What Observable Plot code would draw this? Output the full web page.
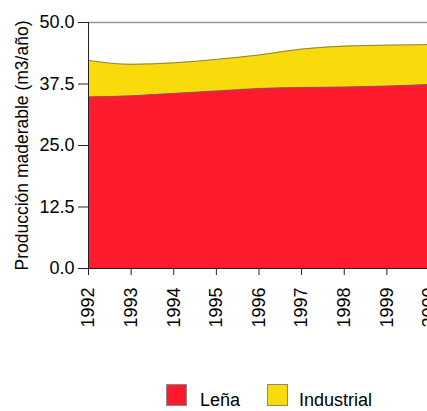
<!DOCTYPE html>
<html>
<head>
<meta charset="utf-8">
<script src="https://cdn.jsdelivr.net/npm/d3@7"></script>
<script src="https://cdn.jsdelivr.net/npm/@observablehq/plot@0.6"></script>
<style>
  html, body { margin: 0; padding: 0; background: #fff; }
  #wrap { position: relative; width: 427px; height: 411px; overflow: hidden; font-family: "Liberation Sans", Arial, sans-serif; }
  #chart { position: absolute; left: 0; top: 0; }
  .leg { position: absolute; top: 384px; display: flex; align-items: flex-start; font-size: 18px; color: #000; }
  .sw { width: 21px; height: 22px; border: 1px solid #888; box-sizing: border-box; }
  .lab { position: absolute; top: 6px; white-space: nowrap; }
</style>
</head>
<body>
<div id="wrap">
  <div id="chart"></div>
</div>
<script>
const years = [1992, 1993, 1994, 1995, 1996, 1997, 1998, 1999, 2000];
const lena = [34.9, 35.1, 35.6, 36.1, 36.6, 36.8, 36.9, 37.1, 37.4];
const industrial = [7.4, 6.4, 6.2, 6.4, 6.8, 7.8, 8.3, 8.3, 8.1];
const series = ["Leña", "Industrial"];
const colors = ["#fe1b2d", "#f9db0b"];
const yTicks = [0, 12.5, 25, 37.5, 50];
const yLabel = "Producción maderable (m3/año)";

const data = [];
years.forEach((yr, i) => data.push({year: yr, serie: "Leña", value: lena[i]}));
years.forEach((yr, i) => data.push({year: yr, serie: "Industrial", value: industrial[i]}));

const curve = "monotone-x";

const plot = Plot.plot({
  width: 427,
  height: 380,
  marginLeft: 88,
  marginTop: 22,
  marginBottom: 112,
  marginRight: 0,
  style: {fontFamily: "Liberation Sans, Arial, sans-serif", fontSize: "18px", color: "#000", overflow: "visible"},
  x: {type: "linear", domain: [1992, 2000], range: [88, 429]},
  y: {domain: [0, 50], range: [268, 22]},
  color: {domain: series, range: colors},
  marks: [
    Plot.areaY(data, {x: "year", y: "value", z: "serie", fill: "serie", curve}),
    Plot.lineY(data, Plot.stackY2({x: "year", y: "value", z: "serie", stroke: "#6f6a55", strokeWidth: 1, strokeOpacity: 0.8, curve})),
    Plot.ruleY([50], {stroke: "#999", strokeWidth: 1.5}),
    Plot.ruleY([0], {stroke: "#222", strokeWidth: 1}),
    Plot.ruleX([1992], {stroke: "#222", strokeWidth: 1}),
    Plot.axisY({ticks: yTicks, tickFormat: d3.format(".1f"), tickSize: 10, tickPadding: 4, fontSize: 18, label: null, stroke: "#222"}),
    Plot.axisX({ticks: years, tickFormat: d => String(d), tickRotate: -90, tickSize: 7, tickPadding: 12, fontSize: 18, label: null, stroke: "#222"}),
    Plot.text([yLabel], {frameAnchor: "left", textAnchor: "middle", rotate: -90, dx: -66, fontSize: 17.5, fill: "#000"})
  ]
});
document.getElementById("chart").appendChild(plot);

const wrap = document.getElementById("wrap");
const legX = [166, 267];
const labX = [200, 299];
series.forEach((s, i) => {
  const d = document.createElement("div");
  d.className = "leg";
  d.style.left = legX[i] + "px";
  d.innerHTML = `<div class="sw" style="background:${colors[i]}"></div>`;
  const l = document.createElement("div");
  l.className = "lab";
  l.style.left = (labX[i] - legX[i]) + "px";
  l.textContent = s;
  d.appendChild(l);
  wrap.appendChild(d);
});
</script>
</body>
</html>
